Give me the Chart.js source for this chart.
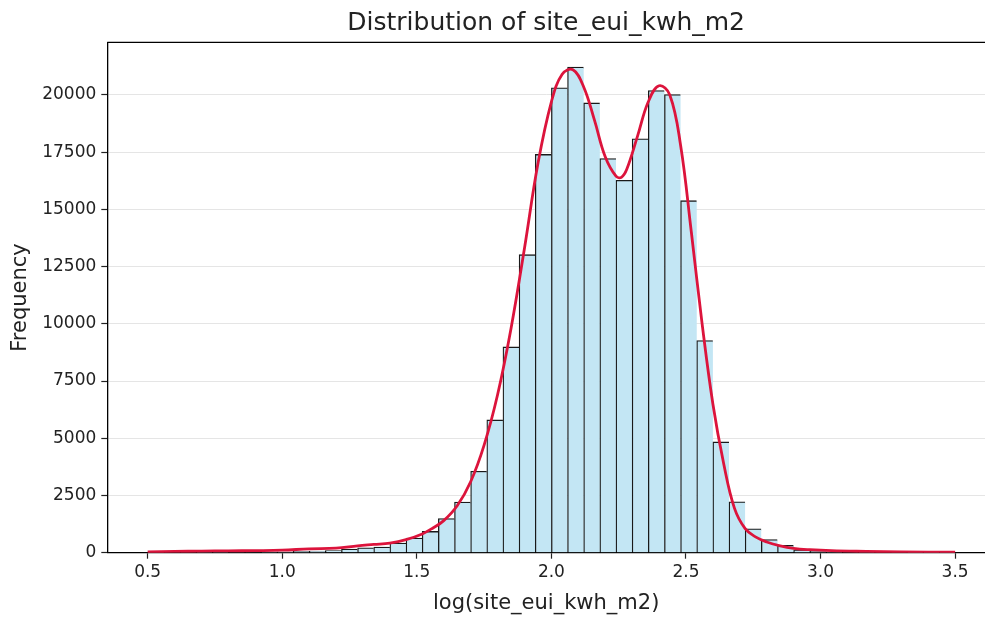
<!DOCTYPE html>
<html>
<head>
<meta charset="utf-8">
<script src="https://cdn.jsdelivr.net/npm/chart.js@4.4.0/dist/chart.umd.min.js"></script>
<style>
  html, body { margin: 0; padding: 0; background: #fff; overflow: hidden; }
  #wrap { width: 985px; height: 617px; }
</style>
</head>
<body>
<div id="wrap"><canvas id="histChart" width="985" height="617"></canvas></div>
<script>
Chart.defaults.font.family = "DejaVu Sans";
Chart.defaults.color = "#222";

// histogram: 50 bins of log(site_eui_kwh_m2), 0.5 .. 3.5
const binStart = 0.5;
const binWidth = 0.06;
const binCounts = [
  15, 18, 20, 22, 25, 28, 30, 35, 40,
  60, 70, 90, 160, 210, 250, 420, 640, 930, 1490, 2210,
  3560, 5800, 8990, 13020, 17400, 20310, 21220, 19650, 17220, 16270,
  18080, 20190, 20020, 15380, 9270, 4840, 2220, 1040, 570, 320,
  130, 60, 40, 30, 25, 20, 15, 12, 10, 8,
];

// density curve, scaled to counts
const kdeX = [
  0.5, 0.6, 0.7, 0.8, 0.9, 1.0, 1.1, 1.2, 1.28, 1.34,
  1.4, 1.46, 1.52, 1.56, 1.6, 1.65, 1.7, 1.75, 1.8, 1.85,
  1.9, 1.95, 2.0, 2.04, 2.08, 2.12, 2.16, 2.2, 2.24, 2.26,
  2.28, 2.32, 2.36, 2.4, 2.44, 2.48, 2.52, 2.56, 2.6, 2.64,
  2.68, 2.72, 2.76, 2.8, 2.85, 2.9, 2.96, 3.04, 3.17, 3.3,
  3.5,
];
const kdeY = [
  40, 55, 70, 80, 90, 110, 170, 200, 300, 360,
  420, 570, 820, 1080, 1400, 2050, 3100, 4700, 6900, 9800,
  13300, 17000, 19700, 20900, 21100, 20350, 18900, 17300, 16450, 16400,
  16750, 18200, 19700, 20400, 20000, 17800, 14000, 10000, 6500, 3900,
  1950, 1050, 680, 470, 300, 190, 130, 87, 57, 35,
  20,
];

const xTicks = [0.5, 1.0, 1.5, 2.0, 2.5, 3.0, 3.5];
const yTicks = [0, 2500, 5000, 7500, 10000, 12500, 15000, 17500, 20000];

const barColor = "rgb(195, 230, 244)";
const edgeColor = "rgba(0, 0, 0, 0.9)";
const kdeColor = "#DC143C";

const bars = binCounts.map((c, i) => ({ x: binStart + binWidth * (i + 0.5), y: c }));
const curve = kdeX.map((x, i) => ({ x: x, y: kdeY[i] }));

// matplotlib-style top spine (right one falls off the canvas)
const topSpine = {
  id: "topSpine",
  afterDraw(chart) {
    const { ctx, chartArea } = chart;
    ctx.save();
    ctx.strokeStyle = "#000";
    ctx.lineWidth = 1.3;
    ctx.beginPath();
    ctx.moveTo(chartArea.left, chartArea.top);
    ctx.lineTo(chartArea.right, chartArea.top);
    ctx.stroke();
    ctx.restore();
  },
};

new Chart(document.getElementById("histChart"), {
  type: "bar",
  plugins: [topSpine],
  data: {
    datasets: [
      {
        type: "line",
        label: "KDE",
        data: curve,
        borderColor: kdeColor,
        borderWidth: 2.8,
        pointRadius: 0,
        tension: 0.4,
        order: 1,
      },
      {
        type: "bar",
        label: "Frequency",
        data: bars,
        backgroundColor: barColor,
        borderColor: edgeColor,
        borderWidth: (ctx) => ({
          top: 1.3,
          left: 1.3,
          bottom: 0,
          right: ctx.dataIndex === binCounts.length - 1 ? 1.3 : 0,
        }),
        borderSkipped: false,
        barPercentage: 1,
        categoryPercentage: 1,
        grouped: false,
        order: 2,
      },
    ],
  },
  options: {
    responsive: false,
    animation: false,
    layout: { padding: { left: 0, right: 0, top: 0, bottom: 0 } },
    scales: {
      x: {
        type: "linear",
        min: 0.35,
        max: 3.611,
        offset: false,
        afterBuildTicks: (scale) => {
          scale.ticks = xTicks.map((v) => ({ value: v }));
        },
        afterFit: (scale) => {
          scale.height = 64.3;
        },
        ticks: {
          callback: (v) => v.toFixed(1),
          font: { size: 17 },
          color: "#222",
          padding: 4,
          maxRotation: 0,
          autoSkip: false,
        },
        grid: {
          offset: false,
          drawOnChartArea: false,
          tickLength: 6,
          tickColor: "#222",
          tickWidth: 1.2,
        },
        border: { color: "#000", width: 1.3 },
        title: {
          display: true,
          text: "log(site_eui_kwh_m2)",
          font: { size: 21 },
          color: "#222",
          padding: { top: 0, bottom: 1 },
        },
      },
      y: {
        min: 0,
        max: 22300,
        afterBuildTicks: (scale) => {
          scale.ticks = yTicks.map((v) => ({ value: v }));
        },
        afterFit: (scale) => {
          scale.width = 107.3;
        },
        ticks: {
          callback: (v) => String(v),
          font: { size: 17 },
          color: "#222",
          padding: 5,
        },
        grid: {
          color: "#e5e5e5",
          lineWidth: 1,
          tickLength: 6,
          tickColor: "#222",
          tickWidth: 1.2,
        },
        border: { color: "#000", width: 1.3 },
        title: {
          display: true,
          text: "Frequency",
          font: { size: 21 },
          color: "#222",
          padding: { top: 8, bottom: 0 },
        },
      },
    },
    plugins: {
      legend: { display: false },
      tooltip: { enabled: false },
      title: {
        display: true,
        fullSize: false,
        text: "Distribution of site_eui_kwh_m2",
        font: { size: 25, weight: "normal" },
        color: "#222",
        padding: { top: 8, bottom: 4.3 },
      },
    },
  },
});
</script>
</body>
</html>
